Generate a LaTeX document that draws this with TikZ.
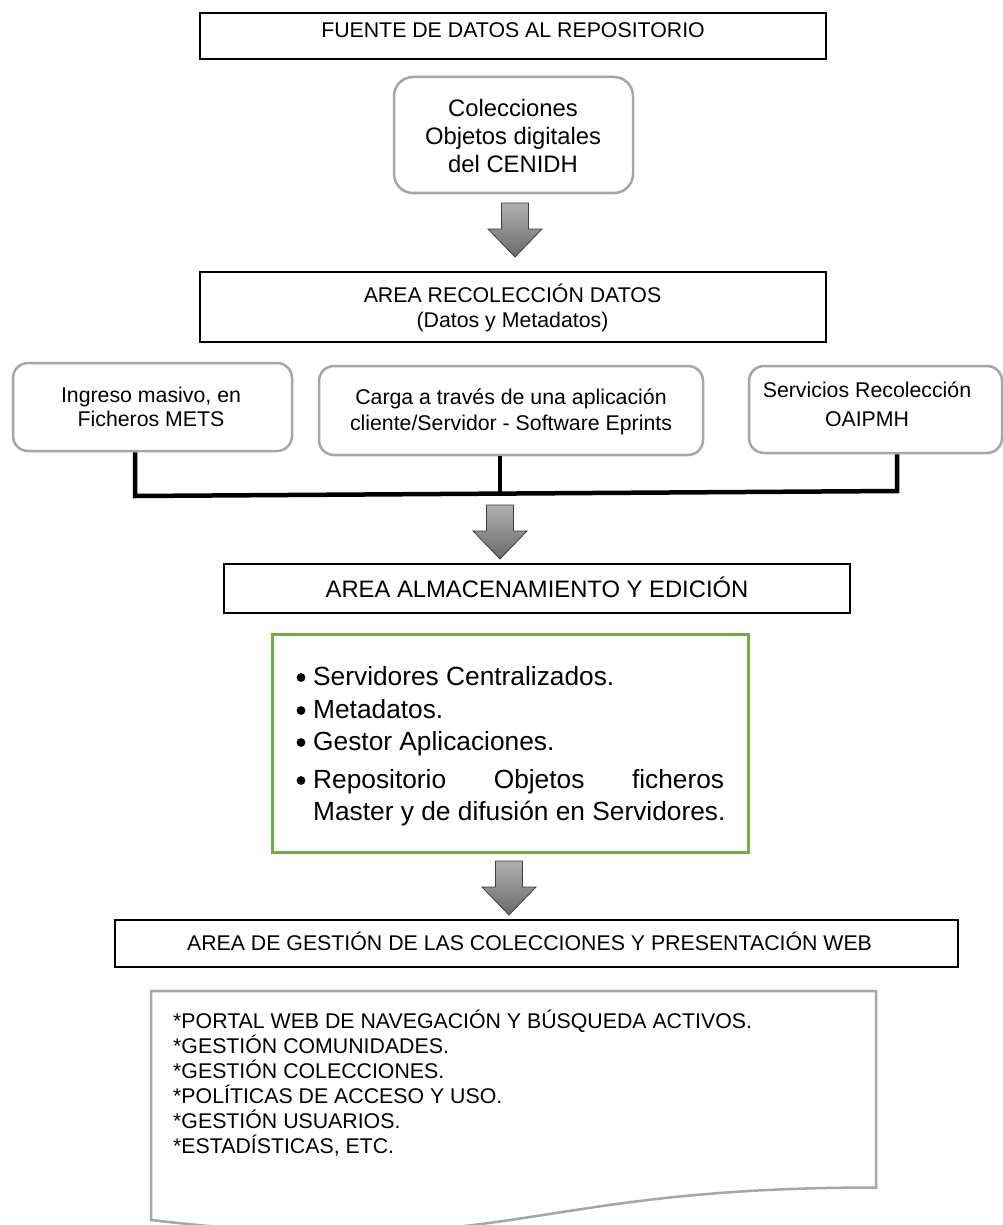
\documentclass[tikz,border=0pt]{standalone}
\usepackage{fontspec}
\setmainfont{Liberation Sans}
\definecolor{boxgray}{HTML}{A6A6A6}
\definecolor{boxgreen}{HTML}{70AD47}
\definecolor{arrowtop}{HTML}{B0B0B0}
\definecolor{arrowbot}{HTML}{6A6A6A}
\definecolor{arrowline}{HTML}{3F3F3F}
\begin{document}
\begin{tikzpicture}[x=1pt,y=-1pt,
  hbox/.style={draw=black, line width=2pt, rectangle, inner sep=0pt},
  rbox/.style={draw=boxgray, line width=2.5pt, rectangle, inner sep=0pt},
  gbox/.style={draw=boxgreen, line width=3pt, rectangle, inner sep=0pt},
  lbl/.style={anchor=base, inner sep=0pt},
  lblw/.style={anchor=base west, inner sep=0pt},
  fhead/.style={font=\fontsize{21.3}{25}\selectfont},
  fbig/.style={font=\fontsize{23.8}{27}\selectfont},
  fgreen/.style={font=\fontsize{26.3}{32}\selectfont},
  bus/.style={draw=black, line width=4.5pt},
  bigarrow/.pic={
    \shade[top color=arrowtop, bottom color=arrowbot, draw=arrowline, line width=0.8pt, line join=miter]
      (-13.5,0) -- (13.5,0) -- (13.5,26) -- (27,26) -- (0,54) -- (-27,26) -- (-13.5,26) -- cycle;
  }
]
\useasboundingbox (0,0) rectangle (1003,1225);
\fill[white] (0,0) rectangle (1003,1225);

% ---------- boxes ----------
\node[hbox, minimum width=626pt, minimum height=46pt] (fuente) at (513,36) {};
\node[rbox, rounded corners=19pt, minimum width=239pt, minimum height=116pt] (colec) at (513.5,135) {};
\node[hbox, minimum width=626pt, minimum height=70pt] (recol) at (513,307) {};
\node[rbox, rounded corners=15pt, minimum width=279pt, minimum height=88pt] (ingreso) at (152.5,407) {};
\node[rbox, rounded corners=15pt, minimum width=384pt, minimum height=89pt] (carga) at (511,410.5) {};
\node[rbox, rounded corners=15pt, minimum width=253pt, minimum height=87pt] (servicios) at (875.5,409.5) {};
\node[hbox, minimum width=626pt, minimum height=49pt] (almac) at (537,588.5) {};
\node[gbox, minimum width=476pt, minimum height=218pt] (green) at (510,743) {};
\node[hbox, minimum width=843pt, minimum height=47pt] (gestion) at (536.5,943.5) {};

% ---------- document shape ----------
\draw[boxgray, line width=2.5pt, line join=miter]
  (151,991) -- (876,991) -- (876,1187.5)
  .. controls (513.5,1187.5) and (513.5,1262) .. (151,1220) -- cycle;

% ---------- texts ----------
\node[lbl, fhead] (tfuente) at (513,38) {FUENTE DE DATOS AL REPOSITORIO};

\node[lbl, fbig] (tcol1) at (513,117) {Colecciones};
\node[lbl, fbig] (tcol2) at (513,145) {Objetos digitales};
\node[lbl, fbig] (tcol3) at (513,172) {del CENIDH};

\node[lbl, fhead] (trec1) at (512.5,302) {AREA RECOLECCIÓN DATOS};
\node[lbl, fhead] (trec2) at (512.5,327) {(Datos y Metadatos)};

\node[lbl, fhead] (ting1) at (151,402) {Ingreso masivo, en};
\node[lbl, fhead] (ting2) at (151,426) {Ficheros METS};

\node[lbl, fhead] (tcar1) at (511,404) {Carga a través de una aplicación};
\node[lbl, fhead] (tcar2) at (511,430) {cliente/Servidor - Software Eprints};

\node[lbl, fhead] (tser1) at (867,397) {Servicios Recolección};
\node[lbl, fhead] (tser2) at (867,426) {OAIPMH};

\node[lbl, fbig] (talm) at (537,597) {AREA ALMACENAMIENTO Y EDICIÓN};

\foreach \yy in {685,718,750,788}{
  \fill (301,\yy-7.5) circle (4.4pt);
}
\node[lblw, fgreen] (tg1) at (313,685) {Servidores Centralizados.};
\node[lblw, fgreen] (tg2) at (313,718) {Metadatos.};
\node[lblw, fgreen] (tg3) at (313,750) {Gestor Aplicaciones.};
\node[lblw, fgreen] (tg4) at (313,788) {\makebox[411pt][s]{Repositorio\hfill Objetos\hfill ficheros}};
\node[lblw, fgreen] (tg5) at (313,820) {Master y de difusión en Servidores.};

\node[lbl, fhead] (tges) at (529.5,950) {AREA DE GESTIÓN DE LAS COLECCIONES Y PRESENTACIÓN WEB};

\node[lblw, fhead] (td1) at (173,1028) {*PORTAL WEB DE NAVEGACIÓN Y BÚSQUEDA ACTIVOS.};
\node[lblw, fhead] (td2) at (173,1053) {*GESTIÓN COMUNIDADES.};
\node[lblw, fhead] (td3) at (173,1078) {*GESTIÓN COLECCIONES.};
\node[lblw, fhead] (td4) at (173,1103) {*POLÍTICAS DE ACCESO Y USO.};
\node[lblw, fhead] (td5) at (173,1128) {*GESTIÓN USUARIOS.};
\node[lblw, fhead] (td6) at (173,1153) {*ESTADÍSTICAS, ETC.};

% ---------- connectors ----------
\coordinate (busL) at (135,496);
\coordinate (busM) at (500,493.5);
\coordinate (busR) at (897,491);
\draw[bus, line join=miter] (ingreso.south -| busL) -- (busL) -- (busR) -- (servicios.south -| busR);
\draw[bus] (carga.south -| busM) -- (busM);

\coordinate (a1) at (515,203);
\coordinate (a2) at (500,505);
\coordinate (a3) at (509,861);
\pic at (a1) {bigarrow};
\pic at (a2) {bigarrow};
\pic at (a3) {bigarrow};
\end{tikzpicture}
\end{document}
